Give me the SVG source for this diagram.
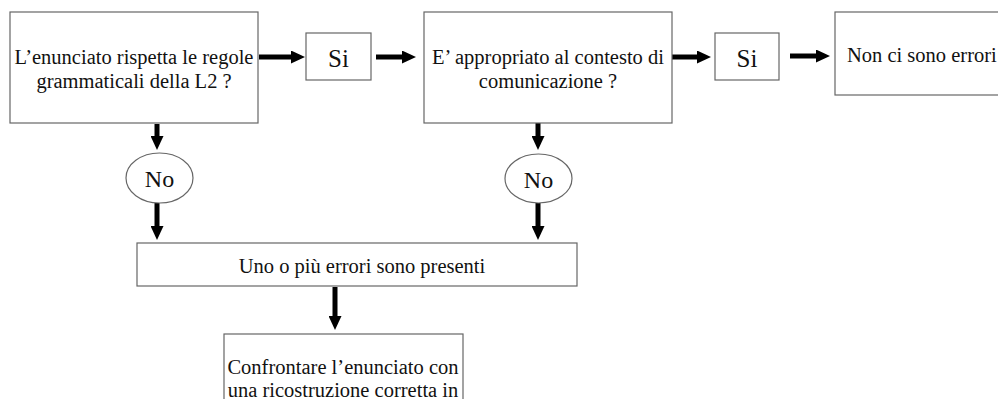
<svg xmlns="http://www.w3.org/2000/svg" width="998" height="399" viewBox="0 0 998 399">
<style>
.box{fill:#fff;stroke:#666;stroke-width:1.2}
.t{font-family:"Liberation Serif","Times New Roman",serif;font-size:20.5px;fill:#111;text-anchor:middle}
.big{font-size:25px}
.no{font-size:24px}
.c{stroke:#000;stroke-width:5;fill:none;marker-end:url(#ah)}
</style>
<defs>
<marker id="ah" viewBox="0 0 14 13" markerWidth="14" markerHeight="13" refX="3" refY="6.5" orient="auto" markerUnits="userSpaceOnUse">
<path d="M0,0 L14,6.5 L0,13 z" fill="#000"/>
</marker>
</defs>
<rect width="998" height="399" fill="#fff"/>
<g id="connectors">
<line class="c" x1="259" y1="57" x2="294" y2="57"/>
<line class="c" x1="376" y1="57" x2="405" y2="57"/>
<line class="c" x1="672" y1="57" x2="700" y2="57"/>
<line class="c" x1="790" y1="56" x2="819" y2="56"/>
<line class="c" x1="157" y1="124" x2="157" y2="139"/>
<line class="c" x1="157" y1="203" x2="157" y2="229"/>
<line class="c" x1="538" y1="113" x2="538" y2="139"/>
<line class="c" x1="538" y1="203" x2="538" y2="229"/>
<line class="c" x1="335" y1="287" x2="335" y2="319"/>
</g>
<g id="q1">
<rect class="box" x="10" y="12" width="248" height="111"/>
<text class="t" x="134" y="64">L’enunciato rispetta le regole</text>
<text class="t" x="134" y="88">grammaticali della L2 ?</text>
</g>
<g id="si1">
<rect class="box" x="306" y="33" width="65" height="47"/>
<text class="t big" x="338.5" y="67">Si</text>
</g>
<g id="q2">
<rect class="box" x="424" y="12" width="248" height="111"/>
<text class="t" x="548" y="64">E’ appropriato al contesto di</text>
<text class="t" x="548" y="88">comunicazione ?</text>
</g>
<g id="si2">
<rect class="box" x="715" y="33" width="64" height="47"/>
<text class="t big" x="747" y="67">Si</text>
</g>
<g id="ok">
<rect class="box" x="835" y="12" width="170" height="83"/>
<text class="t" x="847" y="62" style="text-anchor:start">Non ci sono errori</text>
</g>
<g id="no1">
<ellipse class="box" cx="159.5" cy="178" rx="33.5" ry="25"/>
<text class="t no" x="159.5" y="187">No</text>
</g>
<g id="no2">
<ellipse class="box" cx="538.5" cy="178.5" rx="33.5" ry="24.5"/>
<text class="t no" x="538.5" y="188">No</text>
</g>
<g id="err">
<rect class="box" x="137" y="243" width="440" height="43"/>
<text class="t" x="362" y="273">Uno o più errori sono presenti</text>
</g>
<g id="compare">
<rect class="box" x="224" y="334" width="239" height="80"/>
<text class="t" x="343" y="374">Confrontare l’enunciato con</text>
<text class="t" x="343" y="397">una ricostruzione corretta in</text>
</g>
</svg>
